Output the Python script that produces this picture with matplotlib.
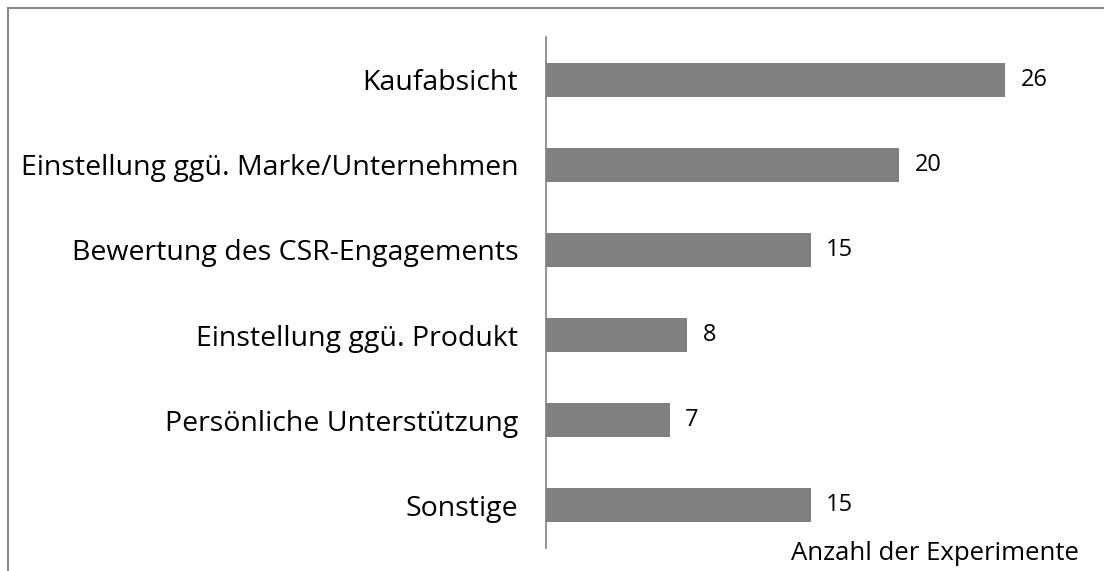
import matplotlib
matplotlib.use("Agg")
import matplotlib.pyplot as plt
from matplotlib.lines import Line2D

categories = ["Kaufabsicht", "Einstellung ggü. Marke/Unternehmen", "Bewertung des CSR-Engagements",
              "Einstellung ggü. Produkt", "Persönliche Unterstützung", "Sonstige"]
values = [26, 20, 15, 8, 7, 15]
xlabel = "Anzahl der Experimente"

plt.rcParams['font.family'] = ['Open Sans', 'DejaVu Sans']

W, H = 1104, 571
fig = plt.figure(figsize=(W/100, H/100), dpi=100)
ax = fig.add_axes([546/W, 1-548/H, (1076-546)/W, (548-37)/H])

ypos = list(range(len(categories)))
ax.barh(ypos, values, height=0.4, color="#808080")
ax.set_ylim(len(categories)-0.5, -0.5)
ax.set_xlim(0, 30)
ax.set_yticks(ypos)
ax.set_yticklabels(categories, fontsize=20.5, color="#000000")
ax.tick_params(axis='y', length=0, pad=20)
ax.set_xticks([])
for s in ["top", "right", "bottom"]:
    ax.spines[s].set_visible(False)
ax.spines["left"].set_color("#808080")
ax.spines["left"].set_linewidth(1.2)

for y, v in zip(ypos, values):
    ax.annotate(str(v), (v, y), xytext=(11, 0), textcoords="offset points",
                va="center", ha="left", fontsize=17, color="#000000")

fig.text(1079/W, 1-554/H, xlabel, ha="right", va="center", fontsize=18.5, color="#000000")

fig.add_artist(Line2D([8/W, 1], [1-8/H, 1-8/H], transform=fig.transFigure, color="#8c8c8c", lw=1.5))
fig.add_artist(Line2D([8/W, 8/W], [0, 1-8/H], transform=fig.transFigure, color="#8c8c8c", lw=1.5))

fig.savefig("out.png", dpi=100, facecolor="white")
